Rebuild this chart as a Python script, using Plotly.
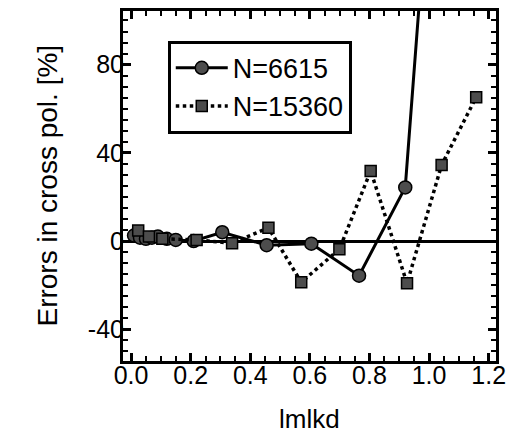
import plotly.graph_objects as go

# Data
n6615_x = [0.01, 0.03, 0.05, 0.07, 0.09, 0.12, 0.15, 0.21, 0.306, 0.455, 0.605, 0.765, 0.92, 1.075]
n6615_y = [2.5, 1.5, 1.0, 1.5, 2.0, 1.0, 0.5, 0.0, 4.0, -1.9, -1.2, -15.7, 24.3, 300]
n15360_x = [0.024, 0.06, 0.105, 0.22, 0.339, 0.461, 0.571, 0.699, 0.804, 0.926, 1.042, 1.158]
n15360_y = [4.8, 2.0, 1.0, 0.5, -1.0, 6.0, -18.7, -3.7, 31.8, -19.2, 34.5, 65.2]

x_ticks = [0.0, 0.2, 0.4, 0.6, 0.8, 1.0, 1.2]
x_ticklabels = ["0.0", "0.2", "0.4", "0.6", "0.8", "1.0", "1.2"]
y_ticks = [-40, 0, 40, 80]
y_ticklabels = ["-40", "0", "40", "80"]

FONT = "Liberation Sans, Arial, Helvetica, sans-serif"

fig = go.Figure()
fig.add_trace(go.Scatter(
    x=n6615_x, y=n6615_y, name="N=6615", mode="lines+markers",
    line=dict(color="black", width=3),
    marker=dict(symbol="circle", size=13, color="#4d4d4d", line=dict(color="black", width=1.5)),
))
fig.add_trace(go.Scatter(
    x=n15360_x, y=n15360_y, name="N=15360", mode="lines+markers",
    line=dict(color="black", width=3.5, dash="dot"),
    marker=dict(symbol="square", size=11, color="#4d4d4d", line=dict(color="black", width=1.5)),
))

axis_common = dict(
    showline=True, linecolor="black", linewidth=3, mirror="ticks",
    ticks="inside", ticklen=8, tickwidth=2.5, tickcolor="black",
    showgrid=False,
    tickfont=dict(family=FONT, size=25, color="black"),
)

fig.update_xaxes(
    **axis_common,
    range=[-0.027, 1.2245],
    tickvals=x_ticks, ticktext=x_ticklabels,
    zeroline=False, ticklabelstandoff=-10,
    minor=dict(dtick=0.05, tick0=0, ticks="inside", ticklen=5, tickwidth=2, tickcolor="black"),
)
fig.update_yaxes(
    **axis_common,
    range=[-54.4, 104.3],
    tickvals=y_ticks, ticktext=y_ticklabels,
    zeroline=True, zerolinecolor="black", zerolinewidth=2.5, ticklabelstandoff=-9,
    minor=dict(dtick=5, tick0=0, ticks="inside", ticklen=5, tickwidth=2, tickcolor="black"),
)

fig.add_annotation(
    text="Errors in cross pol. [%]", xref="paper", yref="paper",
    x=-0.205, y=0.5, xanchor="center", yanchor="middle", textangle=-90,
    showarrow=False, font=dict(family=FONT, size=28, color="black"),
)
fig.add_annotation(
    text="lmlkd", xref="paper", yref="paper",
    x=0.5, y=-0.167, xanchor="center", yanchor="middle",
    showarrow=False, font=dict(family=FONT, size=26, color="black"),
)

fig.update_layout(
    width=514, height=443,
    margin=dict(l=123, r=14, t=8, b=82),
    paper_bgcolor="white", plot_bgcolor="white",
    showlegend=True,
    legend=dict(
        x=0.12, y=0.915, xanchor="left", yanchor="top",
        bgcolor="white", bordercolor="black", borderwidth=3,
        font=dict(family=FONT, size=27, color="black"),
        itemwidth=52, tracegroupgap=0,
    ),
)

fig.write_html("out.html")
